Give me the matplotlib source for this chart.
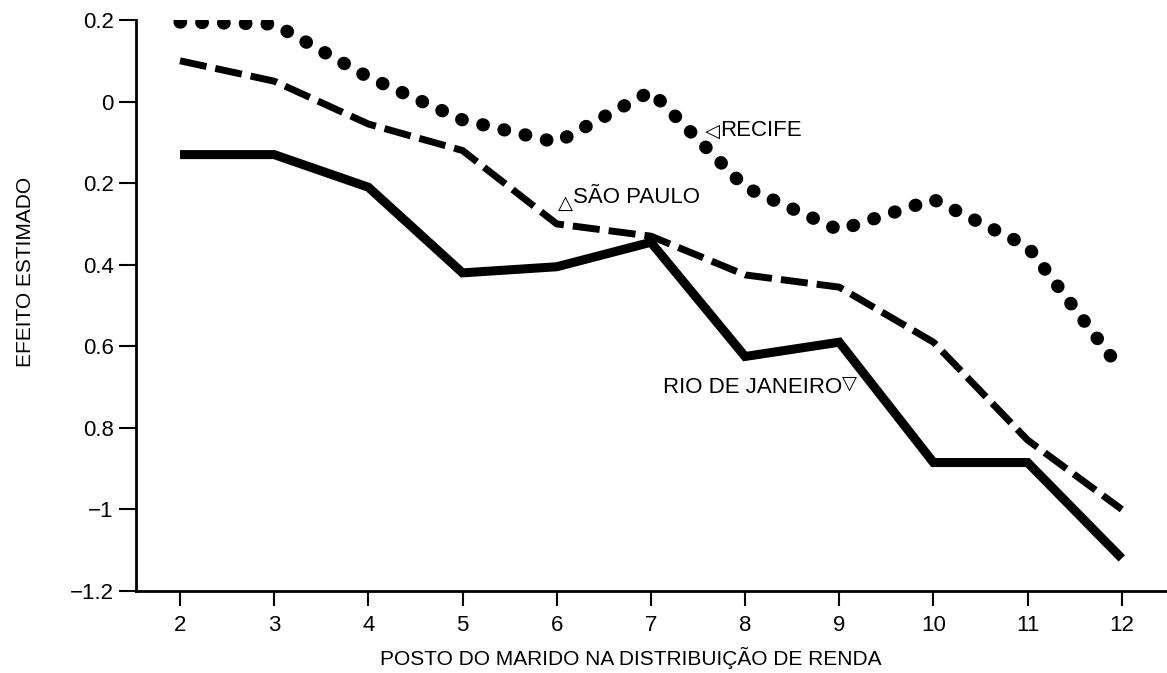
import numpy as np
import matplotlib
matplotlib.use("Agg")
import matplotlib.pyplot as plt

# dados
posto = [2, 3, 4, 5, 6, 7, 8, 9, 10, 11, 12]
rio = [-0.13, -0.13, -0.21, -0.42, -0.405, -0.345, -0.625, -0.59, -0.885, -0.885, -1.12]
sao_paulo = [0.10, 0.05, -0.055, -0.12, -0.30, -0.33, -0.425, -0.455, -0.59, -0.83, -1.0]
recife = [0.195, 0.19, 0.06, -0.045, -0.10, 0.025, -0.21, -0.315, -0.24, -0.355, -0.66]

yticks = [0.2, 0, -0.2, -0.4, -0.6, -0.8, -1.0, -1.2]
ytick_labels = ["0.2", "0", "0.2", "0.4", "0.6", "0.8", "\u22121", "\u22121.2"]

plt.rcParams['font.family'] = ['Liberation Sans', 'DejaVu Sans']

fig = plt.figure(figsize=(11.67, 6.73), dpi=100)
ax = fig.add_axes([136/1167, 1-591/673, 1-136/1167, (591-20)/673])

# Rio de Janeiro - linha solida
ax.plot(posto, rio, color='black', lw=6.5, solid_joinstyle='miter', solid_capstyle='butt')
# Sao Paulo - tracejada
ax.plot(posto, sao_paulo, color='black', lw=5, linestyle=(0, (3.9, 1.3)),
        dash_capstyle='butt', dash_joinstyle='round')
# Recife - pontilhada (pontos redondos)
ax.plot(posto, recife, color='black', lw=9.5, linestyle=(0, (0.05, 1.6)),
        dash_capstyle='round')

ax.set_xlim(1.533, 12.48)
ax.set_ylim(-1.2, 0.2)
ax.set_xticks(posto)
ax.set_yticks(yticks)
ax.set_yticklabels(ytick_labels)
ax.tick_params(axis='both', labelsize=16, width=1.5, color='black')
ax.tick_params(axis='x', length=11, pad=6)
ax.tick_params(axis='y', length=12, pad=4)

for s in ['top', 'right']:
    ax.spines[s].set_visible(False)
for s in ['left', 'bottom']:
    ax.spines[s].set_linewidth(2)

ax.set_xlabel("POSTO DO MARIDO NA DISTRIBUIÇÃO DE RENDA", fontsize=15)
ax.xaxis.set_label_coords(0.48, -0.098)
ax.set_ylabel("EFEITO ESTIMADO", fontsize=15)
ax.yaxis.set_label_coords(-0.098, 0.559)

# rotulos das series
ax.text(7.73, -0.07, "RECIFE", fontsize=16, ha='left', va='center')
ax.text(7.73, -0.072, "\u25c1", fontsize=14, ha='right', va='center', family='DejaVu Sans')
ax.text(6.17, -0.234, "SÃO PAULO", fontsize=16, ha='left', va='center')
ax.text(6.17, -0.25, "\u25b3", fontsize=14, ha='right', va='center', family='DejaVu Sans')
ax.text(9.03, -0.70, "RIO DE JANEIRO", fontsize=16, ha='right', va='center')
ax.text(9.03, -0.69, "\u25bd", fontsize=14, ha='left', va='center', family='DejaVu Sans')

fig.savefig("out.png", dpi=100, facecolor='white')
